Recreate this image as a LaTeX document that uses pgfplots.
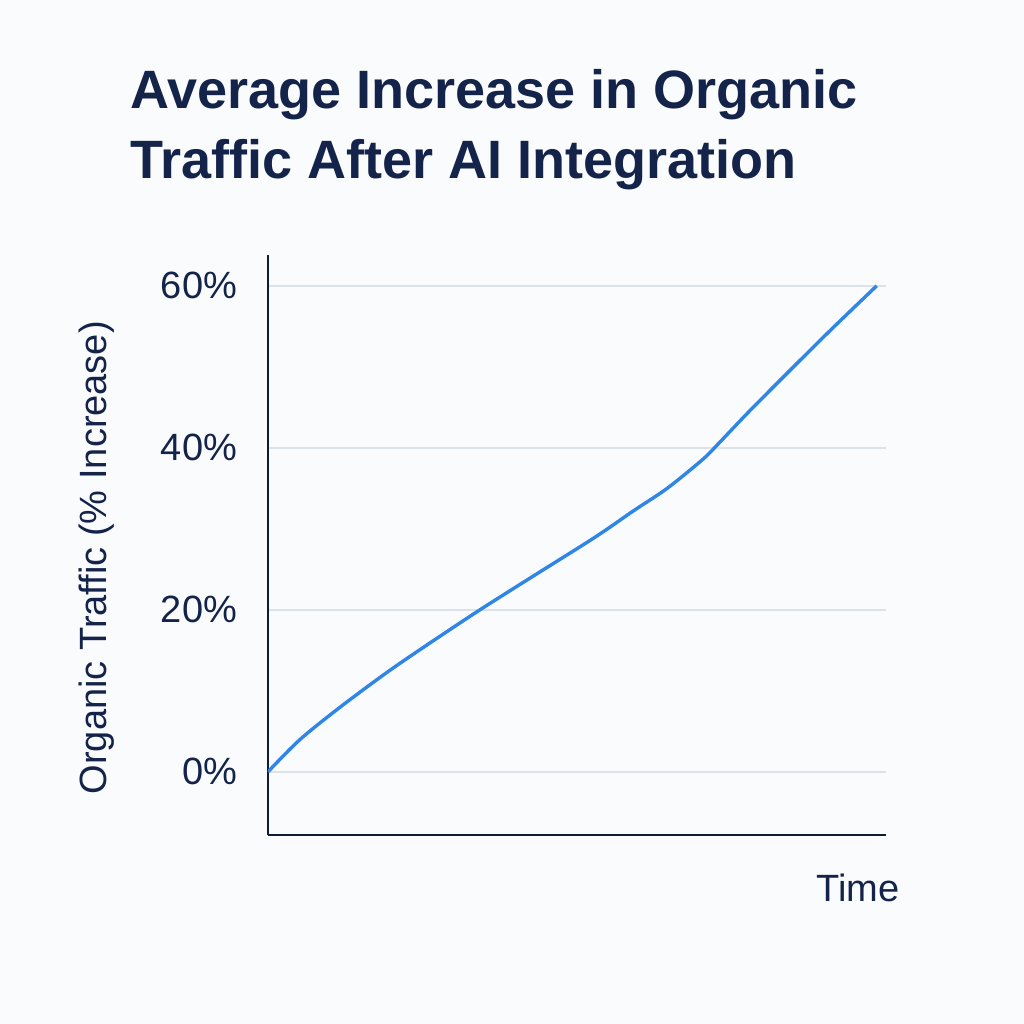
\documentclass[border=0pt]{standalone}
\usepackage{pgfplots}
\pgfplotsset{compat=1.18}
\usepackage{fontspec}
\setmainfont{Liberation Sans}
\definecolor{navy}{HTML}{14234A}
\definecolor{axisdark}{HTML}{0F1A33}
\definecolor{gridc}{HTML}{DCE2EA}
\definecolor{lineblue}{HTML}{2F86E6}
\definecolor{bg}{HTML}{FAFBFC}

\begin{document}
\begin{tikzpicture}
\path[use as bounding box, fill=bg] (-134pt,-94.5pt) rectangle (378pt,417.5pt);
\node[anchor=north west, inner sep=0pt, align=left, text=navy,
      font=\fontsize{27}{35}\selectfont\bfseries] at (-69pt,383pt)
  {Average Increase in Organic\\Traffic After AI Integration};
\begin{axis}[
    scale only axis,
    width=309pt, height=290pt,
    xmin=0, xmax=100,
    ymin=-7.8, ymax=63.8,
    axis lines=left,
    axis line style={-, axisdark, line width=1.2pt},
    xtick=\empty,
    ytick={0,20,40,60},
    yticklabel={\pgfmathprintnumber{\tick}\%},
    /pgf/number format/assume math mode=true,
    major tick length=0pt,
    ticklabel style={font=\fontsize{19}{22}\selectfont, text=navy},
    yticklabel style={xshift=-12pt},
    ymajorgrids=true,
    grid style={gridc, line width=0.9pt},
    xlabel={Time},
    ylabel={Organic Traffic (\% Increase)},
    label style={font=\fontsize{19}{22}\selectfont, text=navy},
    xlabel style={at={(axis description cs:0.955,-0.091)}, anchor=center},
    ylabel style={at={(axis description cs:-0.277,0.478)}, anchor=center},
]
\addplot[lineblue, line width=1.7pt, smooth, tension=0.5] coordinates {
    (0,0) (5.2,4.0) (11.7,8.0) (19.3,12.3) (26,15.8) (34.3,20.0)
    (43,24.2) (53,29.0) (59.1,32.2) (64.6,35.0) (70.4,38.6)
    (73,40.6) (78,44.6) (86.1,50.8) (91.4,54.8) (98.5,60.0)
};
\end{axis}
\end{tikzpicture}
\end{document}
